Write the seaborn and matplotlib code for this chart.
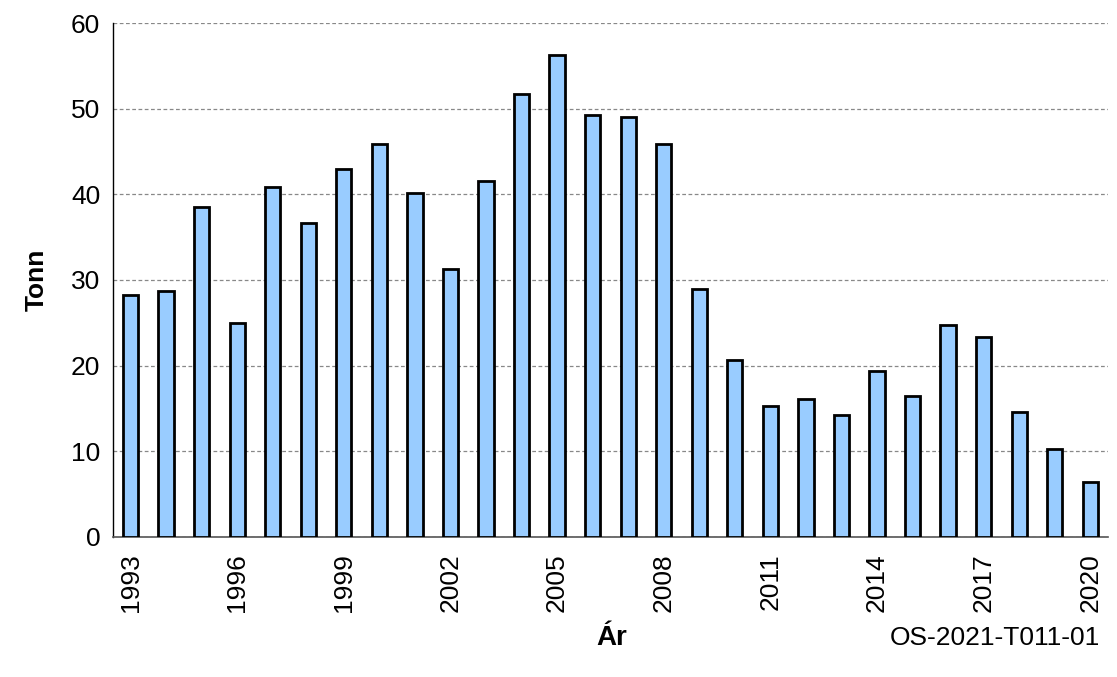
import numpy as np
import pandas as pd
import seaborn as sns
import matplotlib.pyplot as plt

# Data
years = list(range(1993, 2021))
tonn = [28.2, 28.7, 38.5, 25.0, 40.8, 36.6, 42.9, 45.9, 40.2, 31.3,
        41.6, 51.7, 56.3, 49.3, 49.0, 45.9, 29.0, 20.7, 15.3, 16.1,
        14.2, 19.4, 16.5, 24.7, 23.3, 14.6, 10.3, 6.4]
label_years = [1993, 1996, 1999, 2002, 2005, 2008, 2011, 2014, 2017, 2020]

df = pd.DataFrame({"Ár": [str(y) for y in years], "Tonn": tonn})

sns.set_style("white")
plt.rcParams['font.family'] = ['Liberation Sans', 'DejaVu Sans']
plt.rcParams['text.color'] = 'black'
plt.rcParams['xtick.color'] = 'black'
plt.rcParams['ytick.color'] = 'black'
plt.rcParams['axes.labelcolor'] = 'black'

fig = plt.figure(figsize=(11.17, 6.77), dpi=100)
ax = fig.add_axes([0.101, 0.207, 0.891, 0.759])

sns.barplot(data=df, x="Ár", y="Tonn", color="#99CCFF", saturation=1,
            width=0.43, edgecolor="black", linewidth=2, ax=ax, zorder=3)

# y axis
ax.set_ylim(0, 60)
ax.set_yticks(np.arange(0, 61, 10))
ax.tick_params(axis="y", labelsize=19, length=7, width=1, direction="out", pad=2)
ax.yaxis.grid(True, linestyle=(0, (3, 2)), color="#888888", linewidth=0.9, zorder=0)

# x axis: ticks between bars, labels every 3rd year
n = len(years)
ax.set_xlim(-0.5, n - 0.5)
ax.set_xticks(np.arange(-0.5, n, 1.0))
ax.set_xticklabels([])
ax.tick_params(axis="x", which="major", length=7, width=1, direction="out")
ax.set_xticks([years.index(y) for y in label_years], minor=True)
ax.set_xticklabels([str(y) for y in label_years], minor=True, rotation=90, fontsize=19)
ax.tick_params(axis="x", which="minor", length=0, pad=12)

for s in ["top", "right"]:
    ax.spines[s].set_visible(False)
ax.spines["left"].set_color("black")
ax.spines["bottom"].set_color("#555555")
ax.spines["left"].set_linewidth(1)
ax.spines["bottom"].set_linewidth(1.2)

ax.set_xlabel("")
ax.set_ylabel("Tonn", fontsize=19, fontweight="bold", labelpad=16)

fig.text(0.548, 0.058, "Ár", fontsize=20, fontweight="bold", ha="center", va="center")
fig.text(0.985, 0.058, "OS-2021-T011-01", fontsize=19, ha="right", va="center")

fig.savefig("out.png", dpi=100)
